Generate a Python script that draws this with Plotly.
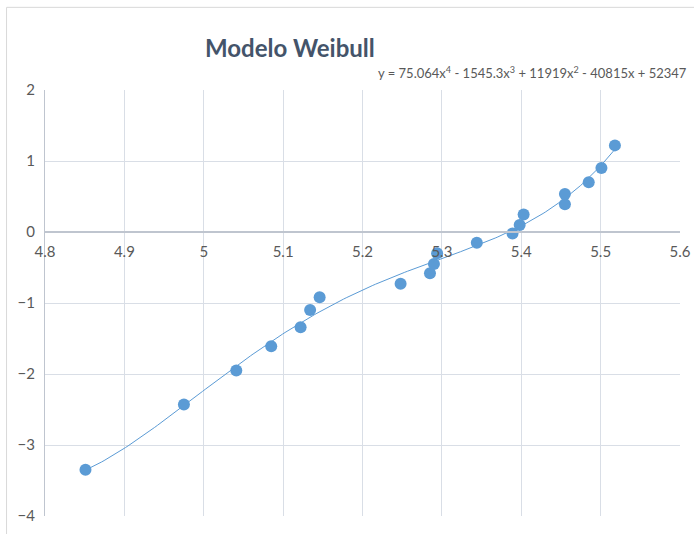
import numpy as np
import plotly.graph_objects as go

# Observed points (x = ln t, y = ln(-ln(1-F)))
x_vals = [4.851, 4.975, 5.041, 5.085, 5.122, 5.134, 5.146, 5.248, 5.285, 5.290,
          5.294, 5.344, 5.389, 5.398, 5.403, 5.455, 5.455, 5.485, 5.501, 5.518]
y_vals = [-3.35, -2.43, -1.95, -1.61, -1.34, -1.10, -0.92, -0.73, -0.58, -0.45,
          -0.30, -0.15, -0.02, 0.10, 0.245, 0.39, 0.535, 0.70, 0.90, 1.22]

x_ticks = [4.8, 4.9, 5.0, 5.1, 5.2, 5.3, 5.4, 5.5, 5.6]
x_tick_text = ["4.8", "4.9", "5", "5.1", "5.2", "5.3", "5.4", "5.5", "5.6"]
y_ticks = [2, 1, 0, -1, -2, -3, -4]

title_text = "Modelo Weibull"
equation_text = "y = 75.064x<sup>4</sup> - 1545.3x<sup>3</sup> + 11919x<sup>2</sup> - 40815x + 52347"

# 4th-order polynomial trend line fitted to the points
xs = np.array(x_vals)
coef = np.polyfit(xs - xs.mean(), np.array(y_vals), 4)
x_fit = np.linspace(xs.min(), xs.max(), 200)
y_fit = np.polyval(coef, x_fit - xs.mean())

blue = "#5B9BD5"
grid = "#D9DEE6"
axis_col = "#BFC5CF"
text_col = "#595959"

# plot-area geometry in pixels
W, H = 694, 534
L, R, T, B = 44.5, 13.5, 89.7, 18
pw, ph = W - L - R, H - T - B


def px_to_paper(px, py):
    return (px - L) / pw, (H - B - py) / ph


fig = go.Figure()
fig.add_trace(go.Scatter(x=x_vals, y=y_vals, mode="markers",
                         marker=dict(color=blue, size=12, line=dict(width=0)),
                         hoverinfo="x+y", showlegend=False))
fig.add_trace(go.Scatter(x=x_fit, y=y_fit, mode="lines",
                         line=dict(color=blue, width=1), hoverinfo="skip",
                         showlegend=False))

tx, ty = px_to_paper(290, 47)
ex, ey = px_to_paper(690, 72)
bx0, by1 = px_to_paper(6, 7)
bx1, by0 = px_to_paper(702, 542)

fig.update_layout(
    width=W, height=H,
    margin=dict(l=L, r=R, t=T, b=B, autoexpand=False),
    paper_bgcolor="white", plot_bgcolor="white",
    font=dict(family="Lato, Open Sans, sans-serif", color=text_col, size=14),
    xaxis=dict(range=[4.8, 5.6], tickvals=x_ticks, ticktext=x_tick_text,
               showgrid=True, gridcolor=grid, gridwidth=1, automargin=False,
               zeroline=False, showline=True, linecolor=axis_col, linewidth=2,
               anchor="free", position=2 / 3,
               ticks="outside", ticklen=6, tickcolor="rgba(0,0,0,0)",
               tickfont=dict(size=15, color=text_col), fixedrange=True),
    yaxis=dict(range=[-4, 2], tickvals=y_ticks, automargin=False,
               showgrid=True, gridcolor=grid, gridwidth=1,
               zeroline=False, showline=True, linecolor=axis_col, linewidth=1,
               ticks="outside", ticklen=6, tickcolor="rgba(0,0,0,0)",
               tickfont=dict(size=15, color=text_col), fixedrange=True),
    shapes=[dict(type="rect", xref="paper", yref="paper",
                 x0=bx0, x1=bx1, y0=by0, y1=by1,
                 line=dict(color="#D9D9D9", width=1), layer="below")],
    annotations=[
        dict(text="<b>" + title_text + "</b>", xref="paper", yref="paper",
             x=tx, y=ty, xanchor="center", yanchor="middle", showarrow=False,
             font=dict(size=24, color="#44546A", family="Lato, Open Sans, sans-serif")),
        dict(text=equation_text, xref="paper", yref="paper",
             x=ex, y=ey, xanchor="right", yanchor="middle", showarrow=False,
             font=dict(size=13, color=text_col, family="Lato, Open Sans, sans-serif")),
    ],
)

fig.write_html("out.html")
